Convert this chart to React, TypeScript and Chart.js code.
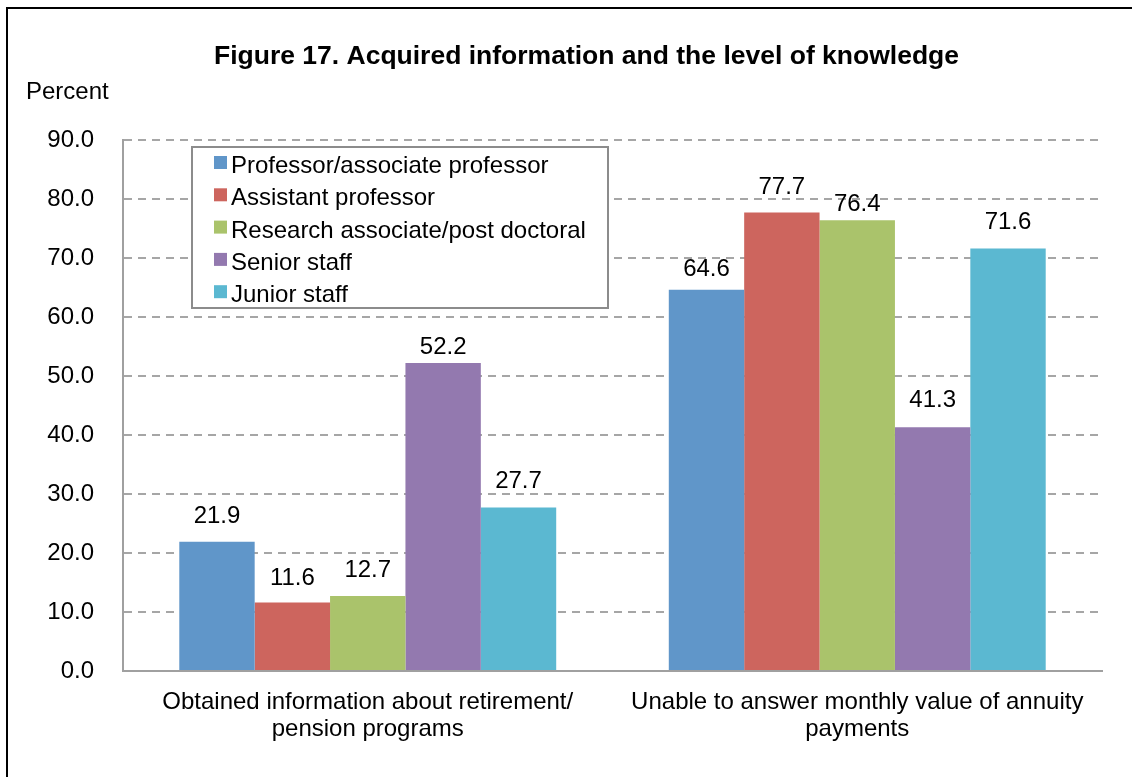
import React, { useEffect, useRef } from 'react';
import { Chart, registerables } from 'chart.js';

Chart.register(...registerables);

const TITLE = 'Figure 17. Acquired information and the level of knowledge';
const Y_AXIS_LABEL = 'Percent';
const CATEGORIES: string[][] = [
  ['Obtained information about retirement/', 'pension programs'],
  ['Unable to answer monthly value of annuity', 'payments'],
];
const SERIES_NAMES = [
  'Professor/associate professor',
  'Assistant professor',
  'Research associate/post doctoral',
  'Senior staff',
  'Junior staff',
];
const PROFESSOR = [21.9, 64.6];
const ASSISTANT = [11.6, 77.7];
const RESEARCH = [12.7, 76.4];
const SENIOR = [52.2, 41.3];
const JUNIOR = [27.7, 71.6];
const SERIES_VALUES = [PROFESSOR, ASSISTANT, RESEARCH, SENIOR, JUNIOR];
const COLORS = ['#6096C9', '#CD655E', '#AAC36B', '#9379AF', '#5BB8D1'];
const Y_MIN = 0;
const Y_MAX = 90;
const Y_STEP = 10;

// style: gap (px) between a value label's baseline and its bar top, per series / category
const LABEL_GAPS = [
  [19, 14],
  [18, 19],
  [19, 9],
  [9, 20],
  [20, 20],
];

const FONT = '"Liberation Sans", Arial, sans-serif';
const W = 1132;
const H = 777;

const framePlugin = {
  id: 'frame',
  beforeDraw(chart: any) {
    const ctx = chart.ctx;
    ctx.save();
    ctx.fillStyle = '#ffffff';
    ctx.fillRect(0, 0, chart.width, chart.height);
    ctx.strokeStyle = '#000000';
    ctx.lineWidth = 2;
    ctx.beginPath();
    ctx.moveTo(7, H);
    ctx.lineTo(7, 8);
    ctx.lineTo(W, 8);
    ctx.stroke();
    ctx.fillStyle = '#000000';
    ctx.font = `bold 26.5px ${FONT}`;
    ctx.textAlign = 'center';
    ctx.textBaseline = 'alphabetic';
    ctx.fillText(TITLE, 586.5, 64);
    ctx.font = `24px ${FONT}`;
    ctx.textAlign = 'left';
    ctx.fillText(Y_AXIS_LABEL, 26, 99);
    ctx.restore();
  },
};

const valueLabelPlugin = {
  id: 'valueLabels',
  afterDatasetsDraw(chart: any) {
    const ctx = chart.ctx;
    ctx.save();
    ctx.fillStyle = '#000000';
    ctx.font = `24px ${FONT}`;
    ctx.textAlign = 'center';
    ctx.textBaseline = 'alphabetic';
    chart.data.datasets.forEach((ds: any, i: number) => {
      const meta = chart.getDatasetMeta(i);
      meta.data.forEach((el: any, j: number) => {
        const v = ds.data[j] as number;
        const gap = (LABEL_GAPS[i] && LABEL_GAPS[i][j]) ?? 20;
        ctx.fillText(v.toFixed(1), el.x, el.y - gap);
      });
    });
    ctx.restore();
  },
};

const boxLegendPlugin = {
  id: 'boxLegend',
  afterDatasetsDraw(chart: any) {
    const ctx = chart.ctx;
    const area = chart.chartArea;
    const left = area.left + 69;
    const top = area.top + 7;
    const width = 416;
    const height = 161;
    ctx.save();
    ctx.fillStyle = '#ffffff';
    ctx.fillRect(left, top, width, height);
    ctx.strokeStyle = '#8c8c8c';
    ctx.lineWidth = 2;
    ctx.strokeRect(left, top, width, height);
    ctx.font = `24px ${FONT}`;
    ctx.textAlign = 'left';
    ctx.textBaseline = 'alphabetic';
    chart.data.datasets.forEach((ds: any, i: number) => {
      const base = top + 26 + i * 32.3;
      ctx.fillStyle = ds.backgroundColor;
      ctx.fillRect(left + 22, base - 17, 13, 13);
      ctx.fillStyle = '#000000';
      ctx.fillText(ds.label, left + 39, base);
    });
    ctx.restore();
  },
};

export default function App() {
  const ref = useRef<HTMLCanvasElement | null>(null);

  useEffect(() => {
    document.body.style.margin = '0';
    if (!ref.current) return;
    const chart = new Chart(ref.current, {
      type: 'bar',
      data: {
        labels: CATEGORIES,
        datasets: SERIES_NAMES.map((name, i) => ({
          label: name,
          data: SERIES_VALUES[i],
          backgroundColor: COLORS[i],
          borderWidth: 0,
          barPercentage: 1,
          categoryPercentage: 0.77,
        })),
      },
      options: {
        responsive: false,
        animation: false,
        devicePixelRatio: 1,
        layout: { padding: { left: 0, top: 140, right: 30, bottom: 0 } },
        plugins: {
          legend: { display: false },
          title: { display: false },
          tooltip: { enabled: false },
        },
        scales: {
          x: {
            grid: { display: false, drawTicks: false },
            border: { display: true, color: '#a0a0a0', width: 2 },
            ticks: {
              color: '#000000',
              padding: 18,
              maxRotation: 0,
              autoSkip: false,
              font: { family: FONT, size: 24, lineHeight: 1.125 },
            },
            afterFit: (scale: any) => {
              scale.height = 106;
            },
          },
          y: {
            min: Y_MIN,
            max: Y_MAX,
            grid: { color: '#a6a6a6', lineWidth: 2, drawTicks: false },
            border: { display: true, color: '#a0a0a0', width: 2, dash: [8, 6] },
            ticks: {
              stepSize: Y_STEP,
              color: '#000000',
              padding: 29,
              font: { family: FONT, size: 24 },
              callback: (v: any) => Number(v).toFixed(1),
            },
            afterFit: (scale: any) => {
              scale.width = 123;
            },
          },
        },
      },
      plugins: [framePlugin, valueLabelPlugin, boxLegendPlugin],
    });
    return () => chart.destroy();
  }, []);

  return <canvas ref={ref} width={W} height={H} style={{ display: 'block' }} />;
}
